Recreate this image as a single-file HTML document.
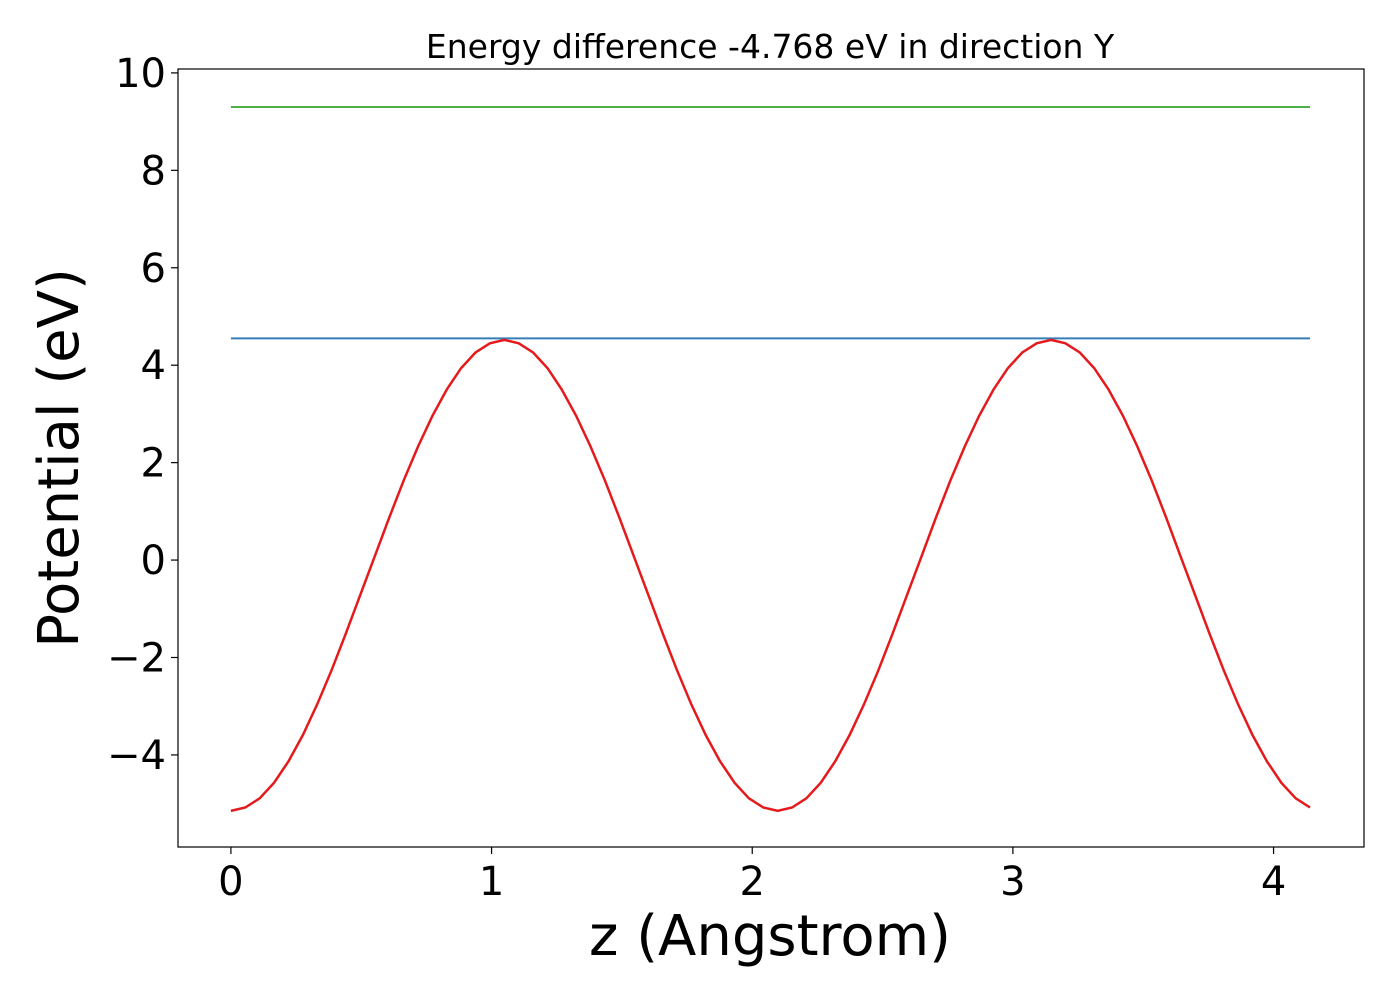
<!DOCTYPE html>
<html><head><meta charset="utf-8"><style>
body{margin:0;background:#fff;}
svg text{font-family:"DejaVu Sans","Liberation Sans",sans-serif;fill:#000;}
</style></head><body>
<svg id="chart" width="1400" height="1000" xmlns="http://www.w3.org/2000/svg">
<rect width="1400" height="1000" fill="#fff"/>
<g id="plot"></g>
</svg>
<script>
const xTicks=[0,1,2,3,4];
const yTicks=[-4,-2,0,2,4,6,8,10];
const zStep=0.0552;
const potentialValues=[-5.15,-5.08,-4.89,-4.57,-4.13,-3.59,-2.96,-2.26,-1.50,-0.71,0.08,0.87,1.63,2.33,2.96,3.50,3.94,4.26,4.45,4.52,4.45,4.26,3.94,3.50,2.96,2.33,1.63,0.87,0.08,-0.71,-1.50,-2.26,-2.96,-3.59,-4.13,-4.57,-4.89,-5.08,-5.15,-5.08,-4.89,-4.57,-4.13,-3.59,-2.96,-2.26,-1.50,-0.71,0.08,0.87,1.63,2.33,2.96,3.50,3.94,4.26,4.45,4.52,4.45,4.26,3.94,3.50,2.96,2.33,1.63,0.87,0.08,-0.71,-1.50,-2.26,-2.96,-3.59,-4.13,-4.57,-4.89,-5.08];
const blueLevel=4.55;
const greenLevel=9.30;
const zMax=4.14;

const L=178,R=1364,T=69,B=847;
const xMin=-0.203,xMaxAx=4.347,yMin=-5.89,yMax=10.08;
const sx=v=>L+(v-xMin)/(xMaxAx-xMin)*(R-L);
const sy=v=>B-(v-yMin)/(yMax-yMin)*(B-T);
const NS="http://www.w3.org/2000/svg";
const g=document.getElementById('plot');
function mk(tag,attrs){const e=document.createElementNS(NS,tag);for(const k in attrs)e.setAttribute(k,attrs[k]);g.appendChild(e);return e;}

let e;
e=mk('line',{x1:sx(0),x2:sx(zMax),y1:sy(greenLevel),y2:sy(greenLevel),stroke:'#4daf4a','stroke-width':2});


e=mk('line',{x1:sx(0),x2:sx(zMax),y1:sy(blueLevel),y2:sy(blueLevel),stroke:'#377eb8','stroke-width':2});


const pts=potentialValues.map((v,i)=>sx(i*zStep).toFixed(1)+','+sy(v).toFixed(1)).join(' ');
e=mk('polyline',{points:pts,fill:'none',stroke:'#e41a1c','stroke-width':2.5});



e=mk('rect',{x:L,y:T,width:R-L,height:B-T,fill:'none',stroke:'#000','stroke-width':1.2});



xTicks.forEach(t=>{
  let l=mk('line',{x1:sx(t),x2:sx(t),y1:B,y2:B+7,stroke:'#000','stroke-width':1.2});
  
  
  let tx=mk('text',{x:sx(t),y:B+48,'text-anchor':'middle','font-size':40});
  tx.textContent=t;
  
  
});
yTicks.forEach(t=>{
  let l=mk('line',{x1:L-7,x2:L,y1:sy(t),y2:sy(t),stroke:'#000','stroke-width':1.2});
  
  
  let tx=mk('text',{x:L-12,y:sy(t)+14,'text-anchor':'end','font-size':40});
  tx.textContent=t<0?'\u2212'+(-t):String(t);
  
  
});
e=mk('text',{x:770,y:58,'text-anchor':'middle','font-size':33});
e.textContent='Energy difference -4.768 eV in direction Y';


e=mk('text',{x:770,y:955,'text-anchor':'middle','font-size':56});
e.textContent='z (Angstrom)';


e=mk('text',{x:0,y:0,'text-anchor':'middle','font-size':56,transform:'translate(78,458) rotate(-90)'});
e.textContent='Potential (eV)';


</script>
</body></html>
